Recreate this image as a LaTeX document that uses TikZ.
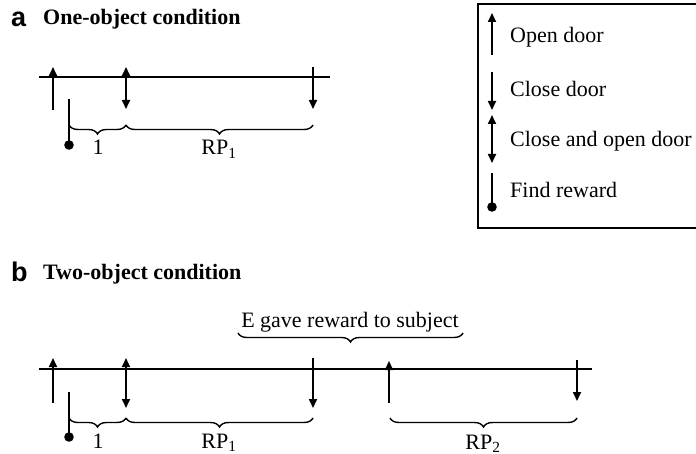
\documentclass[tikz,border=0pt]{standalone}
\usepackage{fontspec}
\setmainfont{Liberation Serif}
\newfontfamily\panelfont{Liberation Sans}
\usetikzlibrary{arrows.meta,decorations.pathreplacing}
\begin{document}
\begin{tikzpicture}[x=1pt,y=-1pt,
  every node/.style={inner sep=0pt,font=\fontsize{22}{26}\selectfont},
  tline/.style={line width=1.8pt},
  evline/.style={line width=1.7pt},
  up/.style={evline,-{Triangle[length=9pt,width=8pt]}},
  updown/.style={evline,{Triangle[length=9pt,width=8pt]}-{Triangle[length=9pt,width=8pt]}},
  brc/.style={line width=1.4pt,decorate,decoration={brace,mirror,amplitude=9pt}},
  panel/.style={anchor=base west,font=\fontsize{27}{30}\selectfont\panelfont\bfseries},
  ttl/.style={anchor=base west,font=\fontsize{22}{26}\selectfont\bfseries},
  lab/.style={anchor=base},
  leg/.style={anchor=base west}]
\useasboundingbox (0,0) rectangle (696,454);

% ---------- panel a ----------
\node[panel] (pa) at (11,27) {a};
\node[ttl] (ta) at (43,25) {One-object condition};
\draw[tline] (39,77) -- (330,77);
\draw[up] (53,110) -- (53,67);
\draw[updown] (126,67) -- (126,109);
\draw[up] (313,67) -- (313,109);
\draw[evline] (69,99) -- (69,145);
\fill (69,145) circle (4.8);
\draw[brc] (69,125) -- (126,125);
\draw[brc] (126,125) -- (313,125);
\node[lab] (a1) at (98,155) {1};
\node[lab] (arp) at (219,155) {RP\textsubscript{1}};

% ---------- legend ----------
\draw[line width=1.6pt] (700,4) -- (478,4) -- (478,228) -- (700,228);
\draw[up] (492,55) -- (492,13);
\node[leg] (l1) at (510,43) {Open door};
\draw[up] (492,72) -- (492,110);
\node[leg] (l2) at (510,97) {Close door};
\draw[updown] (492,115) -- (492,163);
\node[leg] (l3) at (510,147) {Close and open door};
\draw[evline] (492,173) -- (492,205);
\fill (492,207) circle (4.8);
\node[leg] (l4) at (510,198) {Find reward};

% ---------- panel b ----------
\node[panel] (pb) at (11,282) {b};
\node[ttl] (tb) at (43,280) {Two-object condition};
\node[lab] (eg) at (350,327) {E gave reward to subject};
\draw[brc] (238,333) -- (463,333);
\draw[tline] (39,369) -- (592,369);
\draw[up] (53,403) -- (53,358);
\draw[updown] (126,358) -- (126,408);
\draw[up] (313,358) -- (313,408);
\draw[up] (389,403) -- (389,361);
\draw[up] (577,360) -- (577,401);
\draw[evline] (69,392) -- (69,437);
\fill (69,437) circle (4.8);
\draw[brc] (69,418) -- (126,418);
\draw[brc] (126,418) -- (313,418);
\draw[brc] (390,418) -- (577,418);
\node[lab] (b1) at (98,448) {1};
\node[lab] (brp1) at (219,448) {RP\textsubscript{1}};
\node[lab] (brp2) at (483,449) {RP\textsubscript{2}};
\end{tikzpicture}
\end{document}
